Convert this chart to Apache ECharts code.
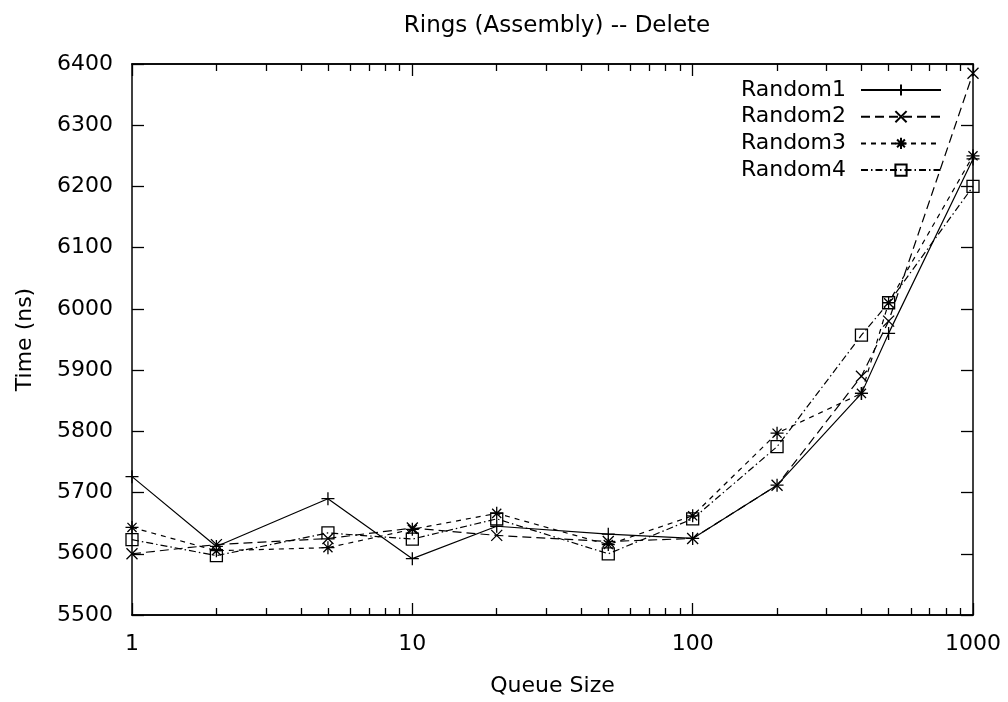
<!DOCTYPE html>
<html>
<head>
<meta charset="utf-8">
<title>Rings (Assembly) -- Delete</title>
<script src="https://cdn.jsdelivr.net/npm/echarts@6/dist/echarts.min.js"></script>
<style>
  html, body { margin: 0; padding: 0; background: #fff; }
  #chart { width: 1008px; height: 702px; }
</style>
</head>
<body>
<div id="chart"></div>
<script>
// Queue sizes (log scale) and measured delete times in ns
const queueSizes = [1, 2, 5, 10, 20, 50, 100, 200, 400, 500, 1000];
const random1 = [5726, 5612, 5690, 5592, 5645, 5632, 5625, 5712, 5862, 5960, 6245];
const random2 = [5600, 5615, 5625, 5642, 5630, 5620, 5625, 5712, 5890, 5980, 6385];
const random3 = [5643, 5605, 5610, 5640, 5666, 5615, 5662, 5797, 5862, 6010, 6250];
const random4 = [5623, 5597, 5634, 5624, 5657, 5600, 5657, 5775, 5957, 6010, 6200];
const seriesNames = ['Random1', 'Random2', 'Random3', 'Random4'];

const yTicks = { min: 5500, max: 6400, step: 100 };
const majorX = [1, 10, 100, 1000];
const minorX = [2, 3, 4, 5, 6, 7, 8, 9, 20, 30, 40, 50, 60, 70, 80, 90, 200, 300, 400, 500, 600, 700, 800, 900];

const FONT = 'DejaVu Sans';
const INK = '#000';

// point markers drawn as stroked paths
const SYM_PLUS = 'path://M0,5L10,5M5,0L5,10';
const SYM_CROSS = 'path://M0,0L10,10M10,0L0,10';
const SYM_STAR = 'path://M0,5L10,5M5,0L5,10M1.5,1.5L8.5,8.5M8.5,1.5L1.5,8.5';
const SYM_BOX = 'path://M0,0L10,0L10,10L0,10Z';

const plain = v => String(v);

const chart = echarts.init(document.getElementById('chart'), null, { renderer: 'canvas' });

function logAxis(position, tickValues, tickLen, withLabels) {
  return {
    type: 'log', logBase: 10, min: 1, max: 1000,
    position: position,
    axisLine: { show: true, lineStyle: { color: INK, width: 1.5 } },
    axisTick: { show: true, inside: true, length: tickLen, customValues: tickValues,
                lineStyle: { color: INK, width: 1.3 } },
    axisLabel: withLabels
      ? { show: true, customValues: majorX, formatter: plain, color: INK,
          fontFamily: FONT, fontSize: 22, margin: 18 }
      : { show: false },
    splitLine: { show: false },
    minorTick: { show: false }
  };
}

function valueAxis(position, withLabels) {
  return {
    type: 'value', min: yTicks.min, max: yTicks.max, interval: yTicks.step,
    position: position,
    axisLine: { show: true, lineStyle: { color: INK, width: 1.5 } },
    axisTick: { show: true, inside: true, length: 12, lineStyle: { color: INK, width: 1.3 } },
    axisLabel: withLabels
      ? { show: true, formatter: plain, color: INK, fontFamily: FONT, fontSize: 22, margin: 19 }
      : { show: false },
    splitLine: { show: false }
  };
}

const xMain = logAxis('bottom', majorX, 12, true);
xMain.name = 'Queue Size';
xMain.nameLocation = 'middle';
xMain.nameGap = 60;
xMain.nameTextStyle = { color: INK, fontFamily: FONT, fontSize: 22 };

const yMain = valueAxis('left', true);
yMain.name = 'Time (ns)';
yMain.nameLocation = 'middle';
yMain.nameRotate = 90;
yMain.nameGap = 96;
yMain.nameTextStyle = { color: INK, fontFamily: FONT, fontSize: 22 };

function lineSeries(name, values, dash, symbol, size) {
  return {
    name: name,
    type: 'line',
    xAxisIndex: 0, yAxisIndex: 0,
    data: queueSizes.map((q, i) => [q, values[i]]),
    symbol: symbol,
    symbolSize: size,
    showAllSymbol: true,
    lineStyle: { color: INK, width: 1.2, type: dash },
    itemStyle: { color: symbol === SYM_BOX ? 'rgba(0,0,0,0)' : INK, borderColor: INK, borderWidth: 1.3 },
    emphasis: { disabled: true },
    animation: false
  };
}

chart.setOption({
  backgroundColor: '#fff',
  animation: false,
  title: {
    text: 'Rings (Assembly) -- Delete',
    left: 552, top: 10, textAlign: 'center',
    textStyle: { color: INK, fontFamily: FONT, fontSize: 23, fontWeight: 'normal' }
  },
  grid: { left: 132, right: 35, top: 64, bottom: 82, containLabel: false },
  legend: {
    orient: 'vertical',
    right: 66, top: 79,
    padding: 0,
    align: 'right',
    itemWidth: 80, itemHeight: 14, itemGap: 4.7,
    textStyle: { color: INK, fontFamily: FONT, fontSize: 22, padding: [0, 10, 0, 0] },
    data: seriesNames
  },
  xAxis: [
    xMain,
    logAxis('bottom', minorX, 7, false),
    logAxis('top', majorX, 12, false),
    logAxis('top', minorX, 7, false)
  ],
  yAxis: [
    yMain,
    valueAxis('right', false)
  ],
  series: [
    lineSeries(seriesNames[0], random1, 'solid', SYM_PLUS, 13),
    lineSeries(seriesNames[1], random2, [9, 5], SYM_CROSS, 11),
    lineSeries(seriesNames[2], random3, [5, 5], SYM_STAR, 13),
    lineSeries(seriesNames[3], random4, [7, 3, 1.5, 3], SYM_BOX, 12)
  ]
});
</script>
</body>
</html>
